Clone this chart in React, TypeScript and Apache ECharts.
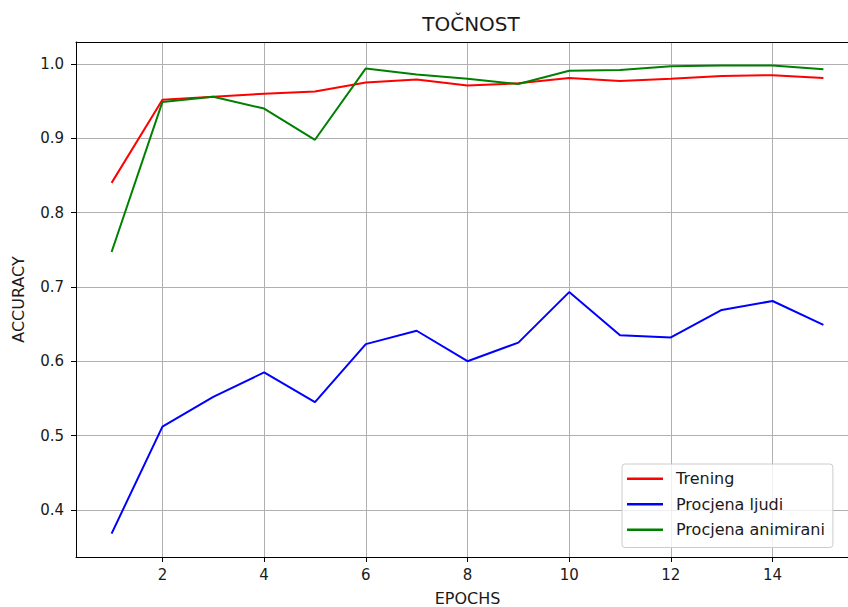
import React, { useEffect, useRef } from "react";
import * as echarts from "echarts";

const epochs = [1, 2, 3, 4, 5, 6, 7, 8, 9, 10, 11, 12, 13, 14, 15];
const trening = [0.84, 0.952, 0.956, 0.96, 0.963, 0.975, 0.979, 0.971, 0.974, 0.981, 0.977, 0.98, 0.984, 0.985, 0.981];
const procjenaLjudi = [0.368, 0.512, 0.552, 0.585, 0.545, 0.623, 0.641, 0.600, 0.625, 0.693, 0.635, 0.632, 0.669, 0.681, 0.649];
const procjenaAnimirani = [0.747, 0.949, 0.956, 0.940, 0.898, 0.994, 0.986, 0.980, 0.973, 0.991, 0.992, 0.997, 0.998, 0.998, 0.993];
const xTicks = [2, 4, 6, 8, 10, 12, 14];
const yTicks = [0.4, 0.5, 0.6, 0.7, 0.8, 0.9, 1.0];

const FONT = "DejaVu Sans";
const TXT = "#1a1a1a";

export default function App() {
  const ref = useRef<HTMLDivElement>(null);
  useEffect(() => {
    if (!ref.current) return;
    const chart = echarts.init(ref.current, undefined, { renderer: "svg" });
    const mk = (name: string, data: number[], color: string) => ({
      name,
      type: "line",
      data: epochs.map((e, i) => [e, data[i]]),
      symbol: "none",
      lineStyle: { color, width: 2 },
      itemStyle: { color },
    });
    chart.setOption({
      animation: false,
      backgroundColor: "#ffffff",
      textStyle: { fontFamily: FONT },
      title: {
        text: "TOČNOST",
        left: 466,
        textAlign: "center",
        top: 9,
        textStyle: { fontFamily: FONT, fontSize: 20, fontWeight: "normal", color: TXT },
      },
      grid: { left: 76, top: 42, right: -11, bottom: 50, containLabel: false, outerBoundsMode: "none" },
      xAxis: [
        {
          type: "value",
          min: 0.3,
          max: 15.7,
          name: "EPOCHS",
          nameLocation: "middle",
          nameGap: 33,
          nameTextStyle: { fontFamily: FONT, fontSize: 16, color: TXT },
          axisLine: { show: true, onZero: false, lineStyle: { color: "#000", width: 1 } },
          axisTick: { show: true, inside: false, length: 5, customValues: xTicks, lineStyle: { color: "#000" } },
          axisLabel: { customValues: xTicks, margin: 10, fontFamily: FONT, fontSize: 15, color: TXT, formatter: (v: number) => String(v) },
          splitLine: { show: true, lineStyle: { color: "#b0b0b0", width: 1 } },
        },
        {
          type: "value",
          position: "top",
          min: 0.3,
          max: 15.7,
          axisLine: { show: true, onZero: false, lineStyle: { color: "#000", width: 1 } },
          axisTick: { show: false },
          axisLabel: { show: false },
          splitLine: { show: false },
        },
      ],
      yAxis: {
        type: "value",
        min: 0.3365,
        max: 1.0296,
        name: "ACCURACY",
        nameLocation: "middle",
        nameGap: 50,
        nameTextStyle: { fontFamily: FONT, fontSize: 16, color: TXT },
        axisLine: { show: true, onZero: false, lineStyle: { color: "#000", width: 1 } },
        axisTick: { show: true, inside: false, length: 5, customValues: yTicks, lineStyle: { color: "#000" } },
        axisLabel: { customValues: yTicks, margin: 12, fontFamily: FONT, fontSize: 15, color: TXT, formatter: (v: number) => v.toFixed(1) },
        splitLine: { show: true, lineStyle: { color: "#b0b0b0", width: 1 } },
      },
      legend: {
        orient: "vertical",
        left: 622,
        top: 464,
        padding: [2, 8, 5, 5],
        icon: "rect",
        itemWidth: 36,
        itemHeight: 2.5,
        itemGap: 0,
        backgroundColor: "rgba(255,255,255,0.8)",
        borderColor: "#cccccc",
        borderWidth: 1,
        borderRadius: 3,
        textStyle: { fontFamily: FONT, fontSize: 16, color: TXT, lineHeight: 25.5, padding: [0, 0, 0, 8] },
        data: ["Trening", "Procjena ljudi", "Procjena animirani"],
      },
      series: [
        mk("Trening", trening, "#ff0000"),
        mk("Procjena ljudi", procjenaLjudi, "#0000ff"),
        mk("Procjena animirani", procjenaAnimirani, "#008000"),
      ],
    });
    return () => chart.dispose();
  }, []);
  return (
    <div
      ref={ref}
      style={{ position: "fixed", left: 0, top: 0, width: 848, height: 607, background: "#fff" }}
    />
  );
}
